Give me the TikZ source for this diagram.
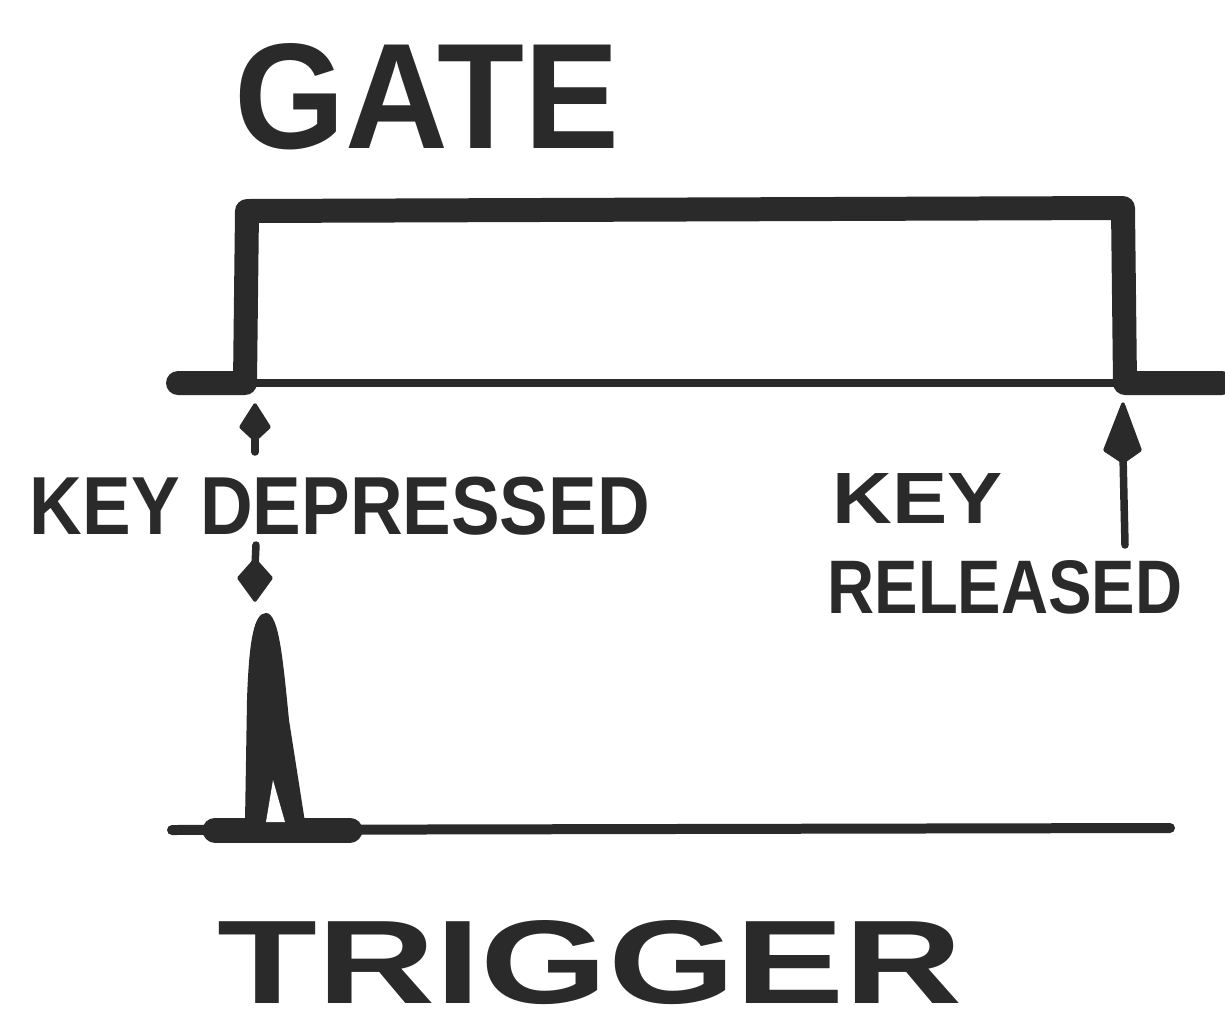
\documentclass[tikz,border=0pt]{standalone}
\usepackage{fontspec}
\setmainfont{Liberation Sans}
\definecolor{ink}{HTML}{2A2A2A}
\begin{document}
\begin{tikzpicture}[x=0.02cm,y=-0.02cm,
  thickline/.style={draw=ink,line width=0.48cm,line join=round,line cap=round},
  thinline/.style={draw=ink,line width=0.16cm,line cap=round},
  stemline/.style={draw=ink,line width=0.15cm,line cap=round},
  kite/.style={fill=ink,draw=ink,line width=2pt,line join=round},
  label/.style={inner sep=0pt,text=ink,font=\bfseries}]
\useasboundingbox (0,0) rectangle (1225,1022);
% titles
\node[label] (gate) at (427,97) {\resizebox{7.7cm}{2.1cm}{GATE}};
\node[label] (trig) at (590,963) {\resizebox{14.9cm}{1.66cm}{TRIGGER}};
\node[label] (kd) at (340,506) {\resizebox{12.4cm}{1.15cm}{KEY DEPRESSED}};
\node[label] (kr1) at (918,498) {\resizebox{3.4cm}{1.0cm}{KEY}};
\node[label] (kr2) at (1005,587) {\resizebox{7.1cm}{1.06cm}{RELEASED}};
% gate waveform
\coordinate (g0) at (178,383);
\coordinate (g1) at (245,383);
\coordinate (g2) at (247,211);
\coordinate (g3) at (1123,208);
\coordinate (g4) at (1125,383);
\coordinate (g5) at (1222,383);
\draw[thickline] (g0) -- (g1) -- (g2) -- (g3) -- (g4) -- (g5);
\draw[thinline] (g1) -- (g4);
% small up arrow under gate rise
\coordinate (ua) at (255,405);
\draw[stemline] (255,436) -- (255,452);
\filldraw[kite] (ua) -- (269,427) -- (255,440) -- (241,427) -- cycle;
% small down arrow above trigger
\coordinate (da) at (255,600);
\draw[stemline] (256,545) -- (255,566);
\filldraw[kite] (255,560) -- (271,578) -- (da) -- (239,578) -- cycle;
% right arrow (key released)
\coordinate (ra) at (1123,404);
\coordinate (rb) at (1125,545);
\draw[stemline] (rb) -- (1123,455);
\filldraw[kite] (ra) -- (1140,450) -- (1123,462) -- (1105,450) -- cycle;
% trigger baseline and spike
\coordinate (t0) at (172,830);
\coordinate (t1) at (1170,828);
\draw[draw=ink,line width=0.2cm,line cap=round] (t0) -- (t1);
\draw[draw=ink,line width=0.5cm,line cap=round] (215,830) -- (350,830);
\fill[ink] (245,822) -- (247,700) .. controls (249,640) and (254,613) .. (266,613)
  .. controls (279,613) and (283,660) .. (289,720) -- (305,822) -- cycle;
\fill[white] (266,822) -- (273,780) -- (285,822) -- cycle;
\end{tikzpicture}
\end{document}
